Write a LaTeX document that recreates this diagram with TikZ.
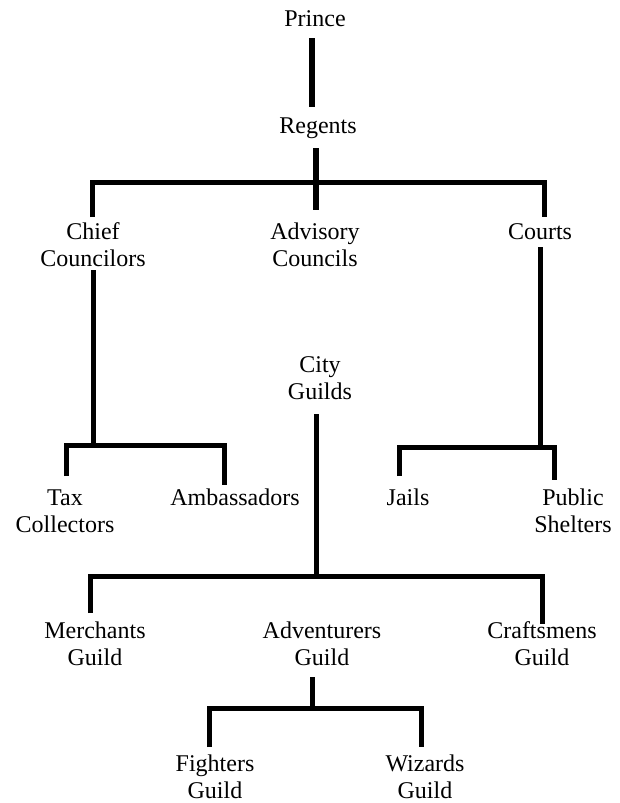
\documentclass[tikz,border=0pt]{standalone}
\usepackage{fontspec}
\setmainfont{Liberation Serif}
\begin{document}
\begin{tikzpicture}[x=1pt,y=-1pt,
  lbl/.style={inner sep=0pt,outer sep=0pt,align=center,anchor=base,
    font=\fontsize{24}{27}\selectfont},
  conn/.style={line width=5pt,line cap=butt,line join=miter},
  thickconn/.style={conn,line width=6.5pt}]
\useasboundingbox (0,0) rectangle (620,803);
% labels (anchor = baseline of the last line)
\node[lbl] (prince) at (315,27) {Prince};
\node[lbl] (regents) at (318,133) {Regents};
\node[lbl] (chief) at (93,266) {Chief\\Councilors};
\node[lbl] (advisory) at (315,266) {Advisory\\Councils};
\node[lbl] (courts) at (540,239) {Courts};
\node[lbl] (city) at (320,399) {City\\Guilds};
\node[lbl] (tax) at (65,532) {Tax\\Collectors};
\node[lbl] (amb) at (235,505) {Ambassadors};
\node[lbl] (jails) at (408,505) {Jails};
\node[lbl] (public) at (573,532) {Public\\Shelters};
\node[lbl] (merch) at (95,665) {Merchants\\Guild};
\node[lbl] (adv) at (322,665) {Adventurers\\Guild};
\node[lbl] (craft) at (542,665) {Craftsmens\\Guild};
\node[lbl] (fight) at (215,798) {Fighters\\Guild};
\node[lbl] (wiz) at (425,798) {Wizards\\Guild};
% connector end points
\coordinate (princeS) at (312,38);
\coordinate (regentsN) at (312,107);
\coordinate (regentsS) at (316,148);
\coordinate (advisoryN) at (316,210);
\coordinate (chiefN) at (92,217);
\coordinate (courtsN) at (544,217);
\coordinate (chiefS) at (93,270);
\coordinate (taxN) at (66,476);
\coordinate (ambN) at (224,485);
\coordinate (courtsS) at (540,247);
\coordinate (jailsN) at (399,476);
\coordinate (publicN) at (554,480);
\coordinate (cityS) at (316,414);
\coordinate (merchN) at (90,613);
\coordinate (craftN) at (542,624);
\coordinate (advS) at (312,677);
\coordinate (fightN) at (209,747);
\coordinate (wizN) at (421,747);
% connectors
\draw[thickconn] (princeS) -- (regentsN);
\draw[thickconn] (regentsS) -- (advisoryN);
\draw[conn] (chiefN) -- (chiefN |- 0,182) -- (courtsN |- 0,182) -- (courtsN);
\draw[conn] (chiefS) -- (chiefS |- 0,445);
\draw[conn] (taxN) -- (taxN |- 0,445) -- (ambN |- 0,445) -- (ambN);
\draw[conn] (courtsS) -- (courtsS |- 0,447);
\draw[conn] (jailsN) -- (jailsN |- 0,447) -- (publicN |- 0,447) -- (publicN);
\draw[conn] (cityS) -- (cityS |- 0,576);
\draw[conn] (merchN) -- (merchN |- 0,576) -- (craftN |- 0,576) -- (craftN);
\draw[conn] (advS) -- (advS |- 0,708);
\draw[conn] (fightN) -- (fightN |- 0,708) -- (wizN |- 0,708) -- (wizN);
\end{tikzpicture}
\end{document}
